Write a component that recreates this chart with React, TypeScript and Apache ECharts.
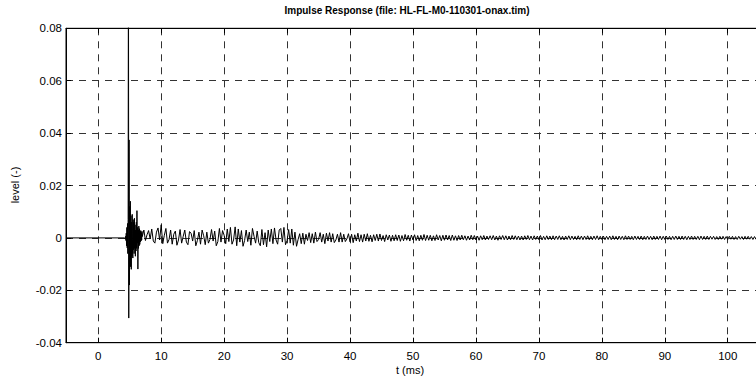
import React, { useEffect, useRef } from "react";
import * as echarts from "echarts";

const X_MIN = -5.12;
const X_MAX = 107;
const Y_MIN = -0.04;
const Y_MAX = 0.08;
const Y_STEP = 0.02;

const titleText = "Impulse Response (file: HL-FL-M0-110301-onax.tim)";
const xLabel = "t (ms)";
const yLabel = "level (-)";

// flat part before the arrival of the impulse: [t (ms), level]
const preOnset: number[][] = [
  [-5.12, 0],
  [4.2, 0],
];

// attack part, level in units of 1e-4, sampled every 0.05 ms from 4.25 ms
const attackStart = 4.25;
const attackStep = 0.05;
const attackLevelE4 = [
  2, -4, 6, -10, 18, -30, 40, -38, 55, -60,
  70, 1200, -306, 374, -180, 120, -95, 140, -110, 85,
  -120, 60, -70, 90, -50, -77, 70, -45, 60, -60,
  75, -40, 50, -70, 30, -50, 60, -40, 104, -20,
  40, -119, 30, -40, 45, -30, 35, -25, 25, -15,
  28, -12, 20, -8, 25, 5,
];

// decaying tail, level in units of 1e-4, sampled every 0.25 ms from 7.25 ms
const tailStart = 7.25;
const tailStep = 0.25;
const tailLevelE4 = [
  30, -10, 12, 28, -4, 34, -12, -20, 22, 38, -8, 50, -22, 10, 36, -20, -6, 30, -24, 14,
  26, -28, -8, 32, -20, 6, 30, -16, -26, 24, 18, -12, 28, -30, -10, 22, -24, 30, 8, -26,
  22, -20, -6, 32, -12, 26, -30, -14, 36, -16, 28, 10, -22, 34, -14, 40, -24, -8, 42, -30,
  34, -16, 28, -32, -10, 30, -14, 22, -28, 36, 6, -20, 26, -18, -30, 32, -26, 20, -34, 30,
  -14, 34, -22, 38, -8, -24, 30, 36, -16, 40, -26, -10, 32, -20, 34, -28, 22, -32, -6, 16,
  -22, 18, -24, 14, -10, 20, -18, 16, -20, 22, -14, -6, 20, -16, 14, -22, 18, -12, 20, -16,
  16, -18, -8, 14, -16, 20, -16, 14, -14, -4, 16, -15, 14, -18, 12, -12, 18, -14, 12, -16,
  14, -12, 16, -13, 10, -15, 12, -10, 14, -12, 15, -10, 9, -14, 12, -8, 11, -13, 10, -11,
  12, -10, 11, -13, 9, -11, 13, -9, 10, -12, 11, -8, 12, -10, 9, -11, 10, -9, 13, -10,
  10, -9, 10, -11, 8, -10, 12, -8, 9, -11, 10, -9, 11, -8, 9, -10, 11, -9, 8, -10,
  9, -8, 10, -7, 8, -9, 7, -8, 10, -7, 9, -8, 7, -9, 8, -7, 9, -8, 7, -6,
  8, -7, 9, -8, 7, -9, 8, -6, 9, -7, 8, -8, 7, -7, 9, -6, 8, -7, 7, -8,
  7, -8, 8, -6, 9, -7, 7, -8, 8, -6, 7, -7, 9, -8, 6, -7, 8, -6, 7, -7,
  8, -7, 7, -6, 8, -7, 6, -8, 7, -6, 8, -7, 7, -6, 6, -7, 8, -6, 7, -7,
  7, -6, 8, -7, 6, -7, 7, -6, 8, -7, 6, -6, 7, -7, 6, -6, 7, -7, 8, -6,
  6, -7, 7, -6, 6, -7, 8, -6, 7, -6, 6, -7, 7, -6, 6, -6, 7, -7, 6, -6,
  7, -6, 6, -7, 7, -6, 6, -6, 7, -7, 6, -6, 7, -6, 6, -7, 6, -6, 7, -6,
  6, -6, 7, -6, 6, -7, 6, -6, 7, -6, 6, -6, 6, -7, 7, -6, 6, -6, 7, -6,
  6, -5, 6, -6, 5, -6, 6, -5, 6, -6, 5, -6, 6, -5, 6, -6, 5, -6, 6, -5,
  5, -6, 6, -5, 6, -5, 5, -6, 5, -5, 6, -5, 5, -6, 5, -5, 6, -5, 5, -5,
];

const FONT = "'Liberation Sans', Arial, Helvetica, sans-serif";
const CHART_W = 772;
const CHART_H = 381;

export default function App() {
  const ref = useRef<HTMLDivElement>(null);

  useEffect(() => {
    if (!ref.current) return;
    const chart = echarts.init(ref.current, undefined, { renderer: "svg" });

    const data: number[][] = [];
    preOnset.forEach((p) => data.push([p[0], p[1]]));
    attackLevelE4.forEach((v, i) =>
      data.push([+(attackStart + i * attackStep).toFixed(3), v / 1e4])
    );
    tailLevelE4.forEach((v, i) =>
      data.push([+(tailStart + i * tailStep).toFixed(3), v / 1e4])
    );

    const gridLine = { show: true, lineStyle: { color: "#333", width: 1, type: [7, 6] as any } };

    chart.setOption({
      animation: false,
      backgroundColor: "#fff",
      grid: {
        left: 66,
        top: 28.3,
        right: 0.2,
        bottom: 38.3,
        show: true,
        borderColor: "#000",
        borderWidth: 1,
        backgroundColor: "#fff",
      },
      xAxis: [
        {
          type: "value",
          min: X_MIN,
          max: X_MAX,
          splitNumber: 11,
          position: "bottom",
          axisLine: { show: true, onZero: false, lineStyle: { color: "#000", width: 1 } },
          axisTick: { show: true, inside: true, length: 5, lineStyle: { color: "#000" } },
          axisLabel: {
            showMinLabel: false,
            showMaxLabel: false,
            color: "#000",
            fontSize: 11.5,
            fontFamily: FONT,
            margin: 7,
          },
          splitLine: gridLine,
        },
        {
          type: "value",
          min: X_MIN,
          max: X_MAX,
          splitNumber: 11,
          position: "top",
          axisLine: { show: true, onZero: false, lineStyle: { color: "#000", width: 1 } },
          axisTick: { show: true, inside: true, length: 5, lineStyle: { color: "#000" } },
          axisLabel: { show: false },
          splitLine: { show: false },
        },
      ],
      yAxis: {
        type: "value",
        min: Y_MIN,
        max: Y_MAX,
        interval: Y_STEP,
        axisLine: { show: true, onZero: false, lineStyle: { color: "#000", width: 1 } },
        axisTick: { show: true, inside: true, length: 5, lineStyle: { color: "#000" } },
        axisLabel: {
          color: "#000",
          fontSize: 11.5,
          fontFamily: FONT,
          margin: 4,
          formatter: (v: number) => (Math.abs(v) < 1e-9 ? "0" : v.toFixed(2)),
        },
        splitLine: gridLine,
      },
      graphic: [
        {
          type: "text",
          x: 407,
          y: 5,
          style: {
            text: titleText,
            fontFamily: FONT,
            fontSize: 10,
            fontWeight: "bold",
            fill: "#000",
            textAlign: "center",
            textVerticalAlign: "top",
          },
        },
        {
          type: "text",
          x: 410,
          y: 364,
          style: {
            text: xLabel,
            fontFamily: FONT,
            fontSize: 11,
            fill: "#000",
            textAlign: "center",
            textVerticalAlign: "top",
          },
        },
        {
          type: "text",
          x: 15,
          y: 185,
          rotation: Math.PI / 2,
          style: {
            text: yLabel,
            fontFamily: FONT,
            fontSize: 11,
            fill: "#000",
            textAlign: "center",
            textVerticalAlign: "middle",
          },
        },
      ],
      series: [
        {
          type: "line",
          xAxisIndex: 0,
          data,
          showSymbol: false,
          symbol: "none",
          clip: true,
          silent: true,
          lineStyle: { color: "#000", width: 1 },
          z: 5,
        },
      ],
    });

    return () => chart.dispose();
  }, []);

  return (
    <div
      style={{
        position: "absolute",
        left: 0,
        top: 0,
        width: 756,
        height: 381,
        overflow: "hidden",
      }}
    >
      <div ref={ref} style={{ width: CHART_W, height: CHART_H }} />
    </div>
  );
}
